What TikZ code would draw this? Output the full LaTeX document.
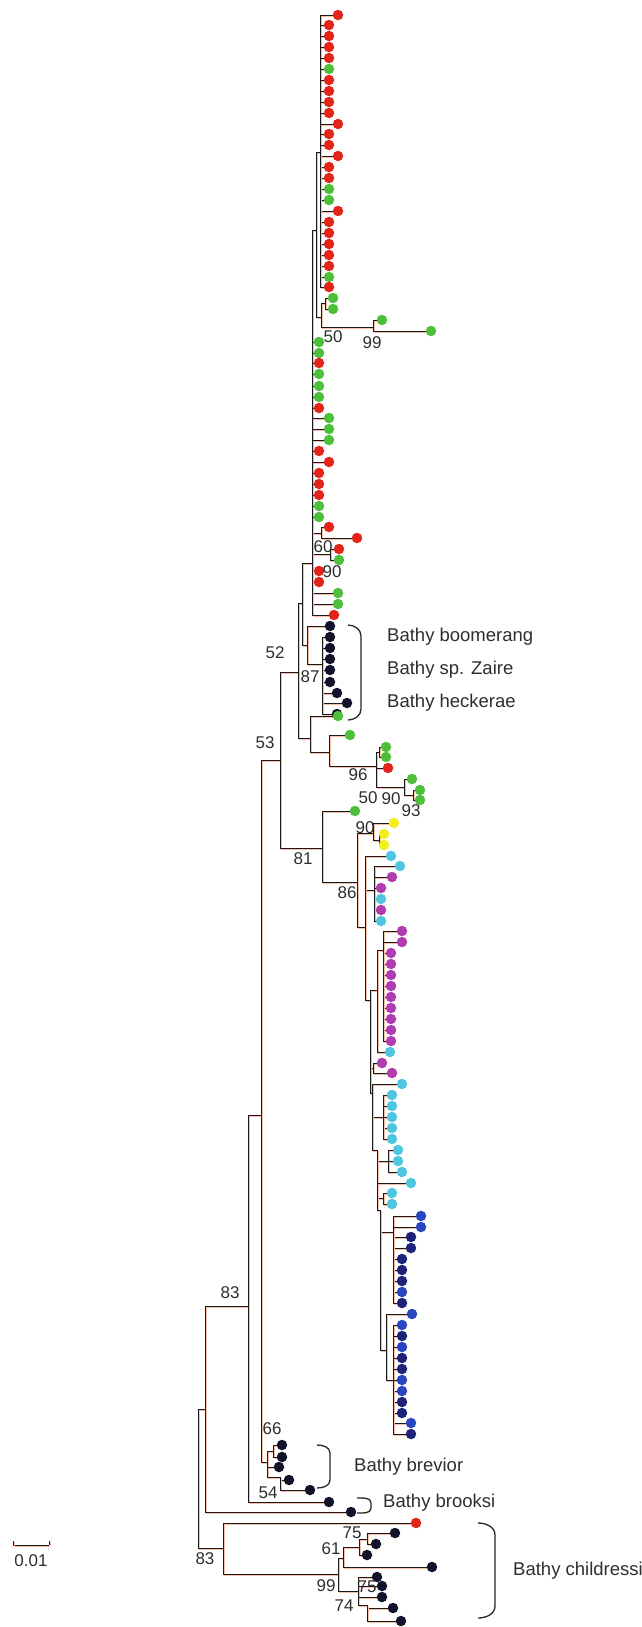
\documentclass[tikz,border=0pt]{standalone}
\usepackage{fontspec}
\setmainfont{Liberation Sans}
\usetikzlibrary{backgrounds}
\definecolor{tred}{HTML}{E3241B}
\definecolor{tgreen}{HTML}{4DBF3A}
\definecolor{tblack}{HTML}{12122A}
\definecolor{tyellow}{HTML}{F2EE1E}
\definecolor{tcyan}{HTML}{4EC6E0}
\definecolor{tmag}{HTML}{B03CB0}
\definecolor{tblue}{HTML}{2A45C0}
\definecolor{tnavy}{HTML}{1C2378}
\definecolor{shade}{HTML}{F7BFA6}
\definecolor{labgray}{HTML}{2E2E2E}

\begin{document}
\begin{tikzpicture}[x=1pt, y=-1pt,
  br/.style={draw=black!90, line width=0.85pt,
    preaction={draw=shade, line width=1.1pt, transform canvas={shift={(1.2pt,-1.2pt)}}}},
  leaf/.style={circle, inner sep=0pt, minimum size=10.5pt},
  bs/.style={font=\fontsize{17}{19}\selectfont, text=labgray, inner sep=0pt},
  sp/.style={font=\fontsize{18.5}{21}\selectfont, text=labgray, inner sep=0pt, anchor=west},
  brk/.style={draw=black!85, line width=1.3pt}]
  \useasboundingbox (0,0) rectangle (641,1627);

  % Internal nodes (x of the node, y where the parent branch meets it)
  \coordinate (R) at (198,1480);
  \coordinate (N83a) at (205,1409);
  \coordinate (N248) at (248,1306);
  \coordinate (N261) at (261,1115);
  \coordinate (N280) at (280,760);
  \coordinate (N52) at (298,672);
  \coordinate (P) at (302,603);
  \coordinate (T0) at (312,563);
  \coordinate (T2) at (316,230);
  \coordinate (T1) at (320,152);
  \coordinate (U) at (321,317);
  \coordinate (G2) at (325,303);
  \coordinate (V) at (373,327);
  \coordinate (n60) at (321,533);
  \coordinate (n90) at (330,554);
  \coordinate (K) at (307,645);
  \coordinate (K2) at (322,664);
  \coordinate (N310) at (310,738);
  \coordinate (N329) at (329,752);
  \coordinate (N376) at (376,766);
  \coordinate (Ng) at (379,752);
  \coordinate (N404) at (404,787);
  \coordinate (N413) at (413,795);
  \coordinate (N81) at (322,848);
  \coordinate (N86) at (357,882);
  \coordinate (Y) at (373,833);
  \coordinate (Y2) at (379,840);
  \coordinate (B) at (365,927);
  \coordinate (C1) at (374,890);
  \coordinate (C) at (370,1000);
  \coordinate (M) at (377,990);
  \coordinate (M1) at (383,950);
  \coordinate (M2) at (373,1068);
  \coordinate (D) at (372,1093);
  \coordinate (D1) at (383,1117);
  \coordinate (E) at (377,1150);
  \coordinate (E1) at (388,1161);
  \coordinate (E2) at (383,1198);
  \coordinate (F) at (380,1210);
  \coordinate (B1) at (393,1232);
  \coordinate (B2) at (386,1350);
  \coordinate (B3) at (393,1380);
  \coordinate (Nbv) at (267,1462);
  \coordinate (Nb1) at (273,1451);
  \coordinate (Nb2) at (280,1477);
  \coordinate (N223) at (223,1548);
  \coordinate (N338) at (338,1574);
  \coordinate (N343) at (343,1558);
  \coordinate (N359) at (359,1547);
  \coordinate (N367) at (367,1539);
  \coordinate (N358) at (358,1591);
  \coordinate (N367b) at (367,1605);

  % Branches between internal nodes
  \begin{scope}[on background layer]
    \foreach \a/\b in {R/N83a, R/N223, N83a/N248, N248/N261, N261/N280, N261/Nbv,
      N280/N52, N280/N81, N52/P, N52/N310, P/T0, P/K, T0/T2, T0/n60, T0/n90,
      T2/T1, T2/U, U/G2, U/V, K/K2, N310/N329, N329/N376, N376/Ng, N376/N404,
      N404/N413, N81/N86, N86/Y, N86/B, Y/Y2, B/C1, B/C, C/M, C/M2, C/D, M/M1,
      D/D1, D/E, E/E1, E/E2, E/F, F/B1, F/B2, B2/B3, Nbv/Nb1, Nbv/Nb2,
      N223/N338, N338/N343, N338/N358, N343/N359, N359/N367, N358/N367b}
      \draw[br] (\a) |- (\b);
  \end{scope}

  % Leaves: parent/x/y/colour
  \foreach \p/\x/\y/\c [count=\i] in {
    T1/338/15/tred, T1/329/25/tred, T1/329/36/tred, T1/329/47/tred, T1/329/58/tred,
    T1/329/69/tgreen, T1/329/80/tred, T1/329/91/tred, T1/329/102/tred, T1/329/113/tred,
    T1/338/124/tred, T1/329/134/tred, T1/329/145/tred, T1/338/156/tred, T1/329/167/tred,
    T1/329/178/tred, T1/329/189/tgreen, T1/329/200/tgreen, T1/338/211/tred, T1/329/222/tred,
    T1/329/233/tred, T1/329/244/tred, T1/329/255/tred, T1/329/266/tred, T1/329/277/tgreen,
    T1/329/287/tred,
    G2/333/298/tgreen, G2/333/309/tgreen, V/382/320/tgreen, V/431/331/tgreen,
    T0/319/342/tgreen, T0/319/353/tgreen, T0/319/363/tred, T0/319/374/tgreen,
    T0/319/386/tgreen, T0/319/397/tgreen, T0/319/408/tred, T0/329/418/tgreen,
    T0/329/429/tgreen, T0/329/440/tgreen, T0/319/451/tred, T0/329/462/tred,
    T0/319/473/tred, T0/319/484/tred, T0/319/495/tred, T0/319/506/tgreen,
    T0/319/517/tgreen, T0/319/571/tred, T0/319/582/tred, T0/338/593/tgreen,
    T0/338/604/tgreen, T0/334/615/tred,
    n60/329/527/tred, n60/357/538/tred, n90/339/549/tred, n90/339/560/tgreen,
    K/330/626/tblack, K2/330/637/tblack, K2/330/648/tblack, K2/330/659/tblack,
    K2/330/670/tblack, K2/330/682/tblack, K2/337/693/tblack, K2/347/703/tblack,
    K2/337/714/tblack,
    N310/338/716/tgreen, N329/350/735/tgreen, Ng/386/747/tgreen, Ng/386/757/tgreen,
    N376/388/768/tred, N404/412/779/tgreen, N413/420/790/tgreen, N413/420/800/tgreen,
    N81/355/811/tgreen,
    Y/394/823/tyellow, Y2/384/834/tyellow, Y2/384/845/tyellow,
    B/391/856/tcyan, C1/400/866/tcyan, C1/392/877/tmag, C1/381/888/tmag,
    C1/381/899/tcyan, C1/381/910/tmag, C1/381/921/tcyan,
    M1/402/931/tmag, M1/402/942/tmag, M1/391/953/tmag, M1/391/964/tmag, M1/391/975/tmag,
    M1/391/986/tmag, M1/391/997/tmag, M1/391/1008/tmag, M1/391/1019/tmag,
    M1/391/1030/tmag, M1/391/1041/tmag, M/390/1052/tcyan,
    M2/382/1063/tmag, M2/392/1073/tmag,
    D/402/1084/tcyan, D1/392/1095/tcyan, D1/392/1106/tcyan, D1/392/1117/tcyan,
    D1/392/1128/tcyan, D1/392/1139/tcyan,
    E1/398/1150/tcyan, E1/398/1161/tcyan, E1/402/1172/tcyan, E/411/1183/tcyan,
    E2/392/1193/tcyan, E2/392/1204/tcyan,
    B1/421/1216/tblue, B1/421/1227/tblue, B1/411/1237/tnavy, B1/411/1248/tnavy,
    B1/402/1259/tnavy, B1/402/1270/tnavy, B1/402/1281/tnavy, B1/402/1292/tblue,
    B1/402/1303/tnavy, B2/412/1314/tblue,
    B3/402/1325/tblue, B3/402/1336/tnavy, B3/402/1347/tblue, B3/402/1358/tnavy,
    B3/402/1369/tnavy, B3/402/1380/tblue, B3/402/1391/tblue, B3/402/1402/tnavy,
    B3/402/1413/tnavy, B3/411/1423/tblue, B3/411/1434/tnavy,
    Nb1/282/1445/tblack, Nb1/282/1457/tblack, Nbv/279/1467/tblack,
    Nb2/289/1480/tblack, Nb2/310/1490/tblack,
    N248/329/1502/tblack, N83a/351/1512/tblack,
    N223/416/1523/tred, N367/395/1533/tblack, N367/376/1544/tblack,
    N359/367/1555/tblack, N343/432/1567/tblack,
    N358/377/1577/tblack, N358/382/1586/tblack, N358/382/1597/tblack,
    N367b/393/1608/tblack, N367b/401/1621/tblack} {
    \node[leaf, fill=\c] (lf\i) at (\x,\y) {};
    \scoped[on background layer] \draw[br] (\p) |- (lf\i);
  }

  % Bootstrap values
  \foreach \x/\y/\t [count=\i] in {333/337/50, 372/343/99, 323/547/60, 332/572/90,
    275/653/52, 310/677/87, 265/743/53, 358/775/96, 368/798/50, 391/799/90,
    411/811/93, 365/828/90, 303/859/81, 347/893/86, 230/1293/83, 272/1429/66,
    268/1493/54, 205/1559/83, 352/1533/75, 331/1549/61, 326/1586/99,
    367/1587/75, 344/1606/74}
    \node[bs] (bv\i) at (\x,\y) {\t};

  % Species brackets and names
  \draw[brk] (348,625) to[out=0,in=90] (361,636) -- (361,709) to[out=-90,in=0] (348,720);
  \draw[brk] (317,1445) to[out=0,in=90] (330,1453) -- (330,1480) to[out=-90,in=0] (317,1488);
  \draw[brk] (357,1498) to[out=0,in=90] (371,1503) -- (371,1508) to[out=-90,in=0] (357,1513);
  \draw[brk] (478,1523) to[out=0,in=90] (495,1535) -- (495,1606) to[out=-90,in=0] (478,1618);
  \node[sp] (boom) at (387,637) {Bathy boomerang};
  \node[sp] (zaire) at (387,670) {Bathy sp. Zaire};
  \node[sp] (heck) at (387,703) {Bathy heckerae};
  \node[sp] (brev) at (354,1467) {Bathy brevior};
  \node[sp] (broo) at (383,1503) {Bathy brooksi};
  \node[sp] (chil) at (513,1571) {Bathy childressi};

  % Scale bar
  \coordinate (sb1) at (13,1545);
  \coordinate (sb2) at (49,1545);
  \draw[br] (sb1) -- (sb2);
  \draw[br] (sb1) -- ++(0,-4);
  \draw[br] (sb2) -- ++(0,-4);
  \node[bs] (sbl) at (31,1561) {0.01};
\end{tikzpicture}
\end{document}
